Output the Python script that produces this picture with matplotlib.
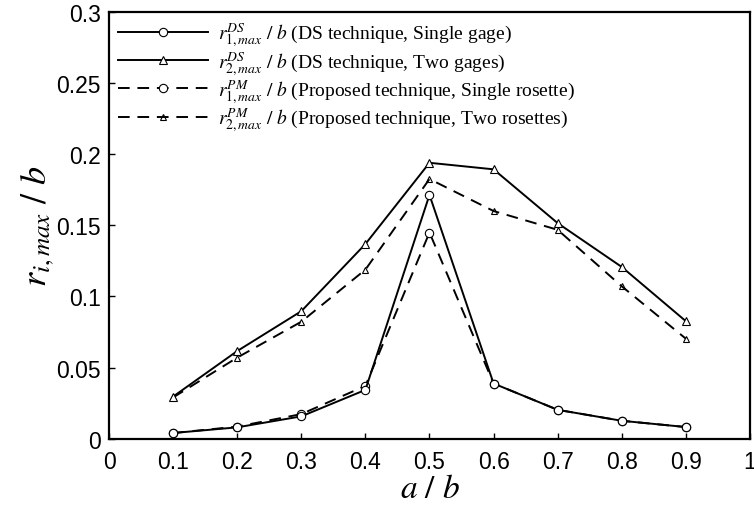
import numpy as np
import matplotlib
matplotlib.use("Agg")
import matplotlib.pyplot as plt

plt.rcParams['mathtext.fontset'] = 'stix'
plt.rcParams['font.family'] = ['Liberation Sans', 'DejaVu Sans']

# a/b positions
ab = [0.1, 0.2, 0.3, 0.4, 0.5, 0.6, 0.7, 0.8, 0.9]

ds_single = [0.004, 0.008, 0.0157, 0.0343, 0.1713, 0.0388, 0.0203, 0.0126, 0.0082]
ds_two = [0.0296, 0.0616, 0.0896, 0.1368, 0.1939, 0.1893, 0.1515, 0.1207, 0.0826]
pm_single = [0.004, 0.0085, 0.0173, 0.0371, 0.1449, 0.0388, 0.0203, 0.0126, 0.0082]
pm_two = [0.0290, 0.0570, 0.0822, 0.1188, 0.1825, 0.1600, 0.1468, 0.1071, 0.0703]

labels = [
    r"$r^{DS}_{1,max}\ /\ b$ (DS technique, Single gage)",
    r"$r^{DS}_{2,max}\ /\ b$ (DS technique, Two gages)",
    r"$r^{PM}_{1,max}\ /\ b$ (Proposed technique, Single rosette)",
    r"$r^{PM}_{2,max}\ /\ b$ (Proposed technique, Two rosettes)",
]

xticks = [0, 0.1, 0.2, 0.3, 0.4, 0.5, 0.6, 0.7, 0.8, 0.9, 1]
xticklabels = ['0', '0.1', '0.2', '0.3', '0.4', '0.5', '0.6', '0.7', '0.8', '0.9', '1']
yticks = [0, 0.05, 0.1, 0.15, 0.2, 0.25, 0.3]
yticklabels = ['0', '0.05', '0.1', '0.15', '0.2', '0.25', '0.3']

fig = plt.figure(figsize=(7.54, 5.06), dpi=100)
ax = fig.add_axes([0.1446, 0.131, 0.850, 0.8437])

dash = (0, (6, 4))
ax.plot(ab, pm_two, color='black', lw=1.4, ls=dash, marker='^', ms=5,
        mfc='none', mec='black', mew=0.8, label=labels[3], zorder=2)
ax.plot(ab, pm_single, color='black', lw=1.4, ls=dash, marker='o', ms=6,
        mfc='white', mec='black', mew=0.8, label=labels[2], zorder=2)
ax.plot(ab, ds_two, color='black', lw=1.4, ls='-', marker='^', ms=5.5,
        mfc='white', mec='black', mew=0.8, label=labels[1], zorder=3)
ax.plot(ab, ds_single, color='black', lw=1.4, ls='-', marker='o', ms=6,
        mfc='white', mec='black', mew=0.8, label=labels[0], zorder=3)

ax.set_xlim(0, 1)
ax.set_ylim(0, 0.3)
ax.set_xticks(xticks)
ax.set_xticklabels(xticklabels)
ax.set_yticks(yticks)
ax.set_yticklabels(yticklabels)
ax.tick_params(direction='in', length=4, width=1, labelsize=16.5)
ax.tick_params(axis='y', pad=6)
ax.tick_params(axis='x', pad=8)
for s in ax.spines.values():
    s.set_linewidth(1.6)

ax.set_xlabel(r"$a\ /\ b$", fontsize=24)
ax.xaxis.set_label_coords(0.5, -0.116)
ax.xaxis.label.set_verticalalignment('center')
ax.set_ylabel(r"$r_{i,max}\ /\ b$", fontsize=26)
ax.yaxis.set_label_coords(-0.112, 0.5)
ax.yaxis.label.set_verticalalignment('center')

handles, labs = ax.get_legend_handles_labels()
order = [3, 2, 1, 0]
leg = ax.legend([handles[i] for i in order], [labs[i] for i in order],
                loc='upper left', frameon=False, numpoints=1,
                handlelength=4.65, handletextpad=0.5, labelspacing=0.02,
                borderaxespad=0.15, borderpad=0.3,
                prop={'family': 'Liberation Serif', 'size': 14})

fig.savefig('out.png', dpi=100)
